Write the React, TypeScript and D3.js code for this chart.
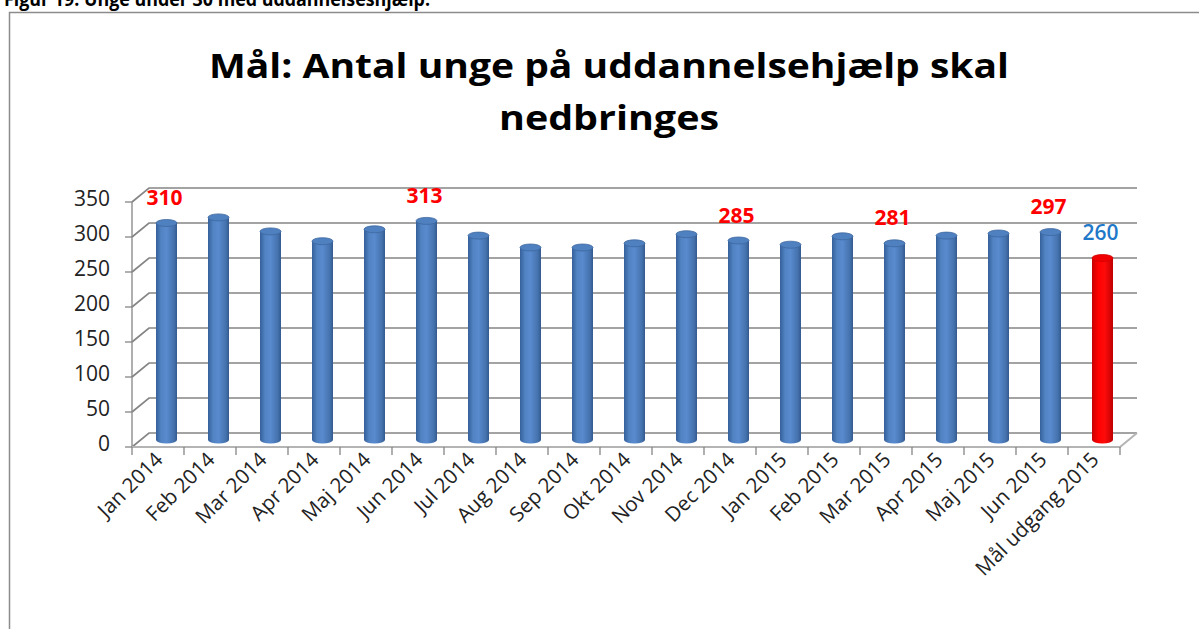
import React from 'react';
import * as d3 from 'd3';

const caption = 'Figur 19: Unge under 30 med uddannelseshjælp.';
const titleLines = ['Mål: Antal unge på uddannelsehjælp skal', 'nedbringes'];

const categories = [
  'Jan 2014', 'Feb 2014', 'Mar 2014', 'Apr 2014', 'Maj 2014', 'Jun 2014',
  'Jul 2014', 'Aug 2014', 'Sep 2014', 'Okt 2014', 'Nov 2014', 'Dec 2014',
  'Jan 2015', 'Feb 2015', 'Mar 2015', 'Apr 2015', 'Maj 2015', 'Jun 2015',
  'Mål udgang 2015',
];
const values = [310, 318, 298, 284, 301, 313, 292, 275, 275, 281, 294, 285, 279, 291, 281, 292, 295, 297, 260];
// only some bars carry a value label in the original
const labelled = ['Jan 2014', 'Jun 2014', 'Dec 2014', 'Mar 2015', 'Jun 2015', 'Mål udgang 2015'];
const goal = 'Mål udgang 2015';
const yTicks = [0, 50, 100, 150, 200, 250, 300, 350];

const FONT = '"Open Sans", "DejaVu Sans", sans-serif';

const App: React.FC = () => {
  const width = 1199;
  const height = 629;

  // 3D box: front plane and back wall offset
  const front = { left: 132, right: 1120, base: 447 };
  const depth = { dx: 17, dy: -14 };

  const x = d3.scaleBand<string>().domain(categories).range([front.left, front.right]).padding(0);
  const h = d3.scaleLinear().domain([0, 350]).range([0, 245]);

  const barBase = front.base + depth.dy / 2;
  const barW = 21;
  const ry = 3.5;

  const gridColor = '#858585';

  return (
    <div style={{ position: 'absolute', left: 0, top: 0 }}>
      <svg width={width} height={height} style={{ display: 'block', background: '#fff' }}>
        <defs>
          <linearGradient id="blueCyl" x1="0" x2="1" y1="0" y2="0">
            <stop offset="0%" stopColor="#35609a" />
            <stop offset="25%" stopColor="#5284c4" />
            <stop offset="50%" stopColor="#588ace" />
            <stop offset="85%" stopColor="#4572ad" />
            <stop offset="100%" stopColor="#33598f" />
          </linearGradient>
          <linearGradient id="redCyl" x1="0" x2="1" y1="0" y2="0">
            <stop offset="0%" stopColor="#c80000" />
            <stop offset="30%" stopColor="#ff0000" />
            <stop offset="60%" stopColor="#ff0a0a" />
            <stop offset="100%" stopColor="#c00000" />
          </linearGradient>
        </defs>

        {/* caption above the chart, cut by the page edge */}
        <text x={4} y={6} fontFamily={FONT} fontWeight="bold" fontSize={19} fill="#000"
          textLength={426} lengthAdjust="spacingAndGlyphs">
          {caption}
        </text>

        {/* chart frame */}
        <rect x={9.5} y={12.5} width={1220} height={640} fill="none" stroke="#8c8c8c" strokeWidth={1.5} />

        {/* title */}
        {titleLines.map((t, i) => (
          <text key={t} x={609} y={78 + i * 52} textAnchor="middle" fontFamily={FONT}
            fontWeight="bold" fontSize={34} fill="#000"
            textLength={i === 0 ? 800 : 220} lengthAdjust="spacingAndGlyphs">
            {t}
          </text>
        ))}

        {/* back wall + left wall grid */}
        {yTicks.map((t) => {
          const yf = front.base - h(t);
          const yb = yf + depth.dy;
          return (
            <g key={t}>
              <polyline
                points={`${front.left},${yf} ${front.left + depth.dx},${yb} ${front.right + depth.dx},${yb}`}
                fill="none" stroke={gridColor} strokeWidth={1.7} />
              <line x1={front.left - 7} x2={front.left} y1={yf} y2={yf} stroke={gridColor} strokeWidth={1.3} />
              <text x={110} y={yf - 3} dy="0.35em" textAnchor="end" fontFamily={FONT} fontSize={21} fill="#222">
                {t}
              </text>
            </g>
          );
        })}
        <line x1={front.left} x2={front.left} y1={front.base} y2={front.base - h(350)} stroke={gridColor} strokeWidth={1.3} />

        {/* floor */}
        <polyline
          points={`${front.left},${front.base} ${front.right},${front.base} ${front.right + depth.dx},${front.base + depth.dy}`}
          fill="none" stroke="#b4b4b4" strokeWidth={2} />

        {/* x ticks */}
        {categories.concat(['']).map((c, i) => {
          const xx = front.left + i * x.bandwidth();
          return <line key={i} x1={xx} x2={xx} y1={front.base} y2={front.base + 8} stroke={gridColor} strokeWidth={1.3} />;
        })}

        {/* cylinders */}
        {categories.map((c, i) => {
          const cx = (x(c) as number) + x.bandwidth() / 2 + depth.dx / 2;
          const top = barBase - h(values[i]);
          const isGoal = c === goal;
          const fill = isGoal ? 'url(#redCyl)' : 'url(#blueCyl)';
          const rx = barW / 2;
          const body = `M${cx - rx},${top} L${cx - rx},${barBase} A${rx},${ry} 0 0 0 ${cx + rx},${barBase} L${cx + rx},${top} Z`;
          return (
            <g key={c}>
              <path d={body} fill={fill} />
              <ellipse cx={cx} cy={top} rx={rx} ry={ry}
                fill={isGoal ? '#f00000' : '#4f80bf'} stroke={isGoal ? '#d00000' : '#3d679f'} strokeWidth={0.8} />
            </g>
          );
        })}

        {/* value labels */}
        {categories.map((c, i) => {
          if (!labelled.includes(c)) return null;
          const cx = (x(c) as number) + x.bandwidth() / 2 + depth.dx / 2;
          const top = barBase - h(values[i]);
          const isGoal = c === goal;
          return (
            <text key={c} x={cx - 2} y={top - 18} textAnchor="middle" fontFamily={FONT}
              fontWeight={isGoal ? 600 : 'bold'} fontSize={21} fill={isGoal ? '#1f78c8' : '#ff0000'}>
              {values[i]}
            </text>
          );
        })}

        {/* category labels */}
        {categories.map((c) => {
          const ax = (x(c) as number) + x.bandwidth() / 2 + 6;
          const ay = front.base + 14;
          return (
            <text key={c} transform={`translate(${ax},${ay}) rotate(-45)`} textAnchor="end"
              fontFamily={FONT} fontSize={20.5} fill="#222">
              {c}
            </text>
          );
        })}
      </svg>
    </div>
  );
};

export default App;
